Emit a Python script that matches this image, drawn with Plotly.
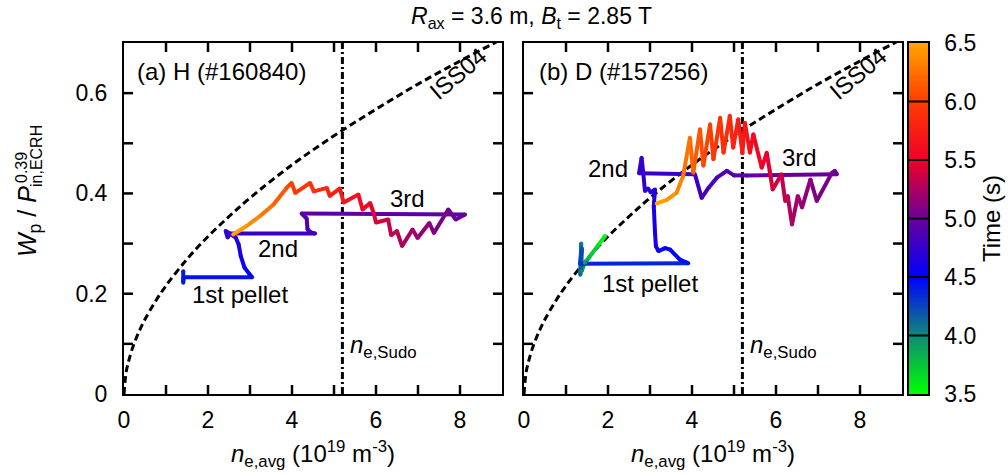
import plotly.graph_objects as go

# ---------------- data ----------------
# ISS04 scaling curve
iss_x = [0, 0.05, 0.1, 0.2, 0.35, 0.5, 0.75, 1, 1.5, 2, 2.5, 3, 4, 5, 6, 7, 8, 9]
iss_y = [0, 0.043, 0.062, 0.091, 0.123, 0.149, 0.185, 0.216, 0.269, 0.314, 0.354,
         0.391, 0.457, 0.515, 0.568, 0.618, 0.664, 0.708]

n_sudo = 5.2

# (a) H (#160840) trajectory: density, Wp/P^0.39, time
a_x = [1.41, 1.41, 1.42, 3.05, 2.98, 2.87, 2.78, 2.73, 2.66, 2.55, 2.42, 2.47, 2.50,
       4.55, 4.45, 4.37, 4.35, 4.23,
       8.12, 7.90, 7.72, 7.38, 7.27, 6.99, 6.87, 6.62, 6.50, 6.36, 6.29, 6.00, 5.94,
       5.86, 5.68, 5.58, 5.23, 5.14, 4.90, 4.83, 4.52, 4.43, 4.08, 3.99,
       3.87, 3.56, 3.24, 2.92, 2.60]
a_y = [0.245, 0.222, 0.233, 0.233, 0.240, 0.252, 0.275, 0.298, 0.312, 0.318, 0.325, 0.312, 0.320,
       0.320, 0.322, 0.328, 0.350, 0.360,
       0.358, 0.348, 0.368, 0.321, 0.341, 0.311, 0.328, 0.295, 0.325, 0.317, 0.348, 0.342, 0.362,
       0.381, 0.368, 0.398, 0.382, 0.410, 0.395, 0.411, 0.404, 0.421, 0.401, 0.421,
       0.411, 0.378, 0.355, 0.335, 0.318]
a_t = [4.40, 4.41, 4.42, 4.45, 4.48, 4.52, 4.57, 4.62, 4.68, 4.72, 4.74, 4.75, 4.76,
       4.78, 4.82, 4.86, 4.90, 4.93,
       4.96, 4.99, 5.02, 5.08, 5.11, 5.17, 5.20, 5.26, 5.30, 5.33, 5.37, 5.43, 5.47,
       5.50, 5.55, 5.59, 5.68, 5.72, 5.78, 5.82, 5.88, 5.92, 5.98, 6.02,
       6.08, 6.20, 6.32, 6.42, 6.50]

# (b) D (#157256) trajectory
b_x = [1.93, 1.75, 1.55, 1.45, 1.37, 1.36, 1.34, 1.38, 1.33,
       3.91, 3.71, 3.48, 3.36, 3.20, 3.14, 3.12, 3.09, 3.12, 3.02, 2.95, 2.88, 2.84, 2.80, 2.74,
       4.07, 4.23, 4.40, 4.60, 4.83, 5.00, 5.30,
       7.45, 7.40, 7.33, 6.97, 6.82, 6.62, 6.52, 6.38, 6.28, 6.22, 6.13, 5.92, 5.85, 5.78,
       5.66, 5.46, 5.38, 5.26, 5.20, 5.10, 4.98, 4.90, 4.75, 4.67, 4.51, 4.43, 4.27, 4.19,
       4.03, 3.95, 3.79, 3.63, 3.40, 3.16]
b_y = [0.315, 0.295, 0.272, 0.262, 0.245, 0.300, 0.238, 0.290, 0.260,
       0.261, 0.268, 0.288, 0.291, 0.285, 0.295, 0.321, 0.375, 0.408, 0.402, 0.410, 0.405, 0.440, 0.471, 0.440,
       0.438, 0.391, 0.412, 0.432, 0.445, 0.436, 0.436,
       0.438, 0.445, 0.441, 0.385, 0.428, 0.372, 0.395, 0.338, 0.395, 0.385, 0.438, 0.408, 0.445, 0.481,
       0.451, 0.518, 0.481, 0.541, 0.480, 0.548, 0.491, 0.555, 0.481, 0.551, 0.468, 0.538, 0.455, 0.528,
       0.441, 0.511, 0.435, 0.401, 0.387, 0.380]
b_t = [3.50, 3.62, 3.78, 3.90, 3.98, 4.05, 4.12, 4.20, 4.30,
       4.42, 4.46, 4.50, 4.53, 4.56, 4.58, 4.61, 4.65, 4.68, 4.70, 4.71, 4.72, 4.73, 4.74, 4.75,
       4.78, 4.80, 4.83, 4.86, 4.89, 4.92, 4.95,
       4.98, 5.00, 5.02, 5.08, 5.11, 5.17, 5.20, 5.25, 5.29, 5.31, 5.35, 5.40, 5.44, 5.48,
       5.52, 5.58, 5.62, 5.68, 5.72, 5.76, 5.80, 5.84, 5.88, 5.92, 5.96, 6.00, 6.05, 6.10,
       6.16, 6.22, 6.30, 6.38, 6.45, 6.50]

# axis ticks
x_label_ticks = [0, 2, 4, 6, 8]
x_all_ticks = [1, 2, 3, 4, 5, 6, 7, 8]
y_label_ticks = [0, 0.2, 0.4, 0.6]
y_all_ticks = [0.1, 0.2, 0.3, 0.4, 0.5, 0.6]
cbar_ticks = [3.5, 4.0, 4.5, 5.0, 5.5, 6.0, 6.5]
T_MIN, T_MAX = 3.5, 6.5
X_RANGE, Y_RANGE = (0, 9), (0, 0.7)

# ---------------- style ----------------
cscale_pts = [(0.0, (0, 255, 0)), (1 / 6, (16, 136, 120)), (2 / 6, (0, 0, 255)),
              (3 / 6, (106, 0, 152)), (4 / 6, (240, 0, 40)), (5 / 6, (255, 60, 0)),
              (1.0, (255, 165, 0))]
colorscale = [[p, "rgb(%d,%d,%d)" % c] for p, c in cscale_pts]


def color_at(t):
    f = (t - T_MIN) / (T_MAX - T_MIN)
    f = min(max(f, 0), 1)
    for (p0, c0), (p1, c1) in zip(cscale_pts[:-1], cscale_pts[1:]):
        if p0 <= f <= p1:
            w = (f - p0) / (p1 - p0) if p1 > p0 else 0
            c = [round(c0[i] + w * (c1[i] - c0[i])) for i in range(3)]
            return "rgb(%d,%d,%d)" % tuple(c)
    return "rgb(%d,%d,%d)" % cscale_pts[-1][1]


FONT = "Liberation Sans, Arial, Helvetica, sans-serif"
LW = 4
ML, MR, MT, MB = 124, 40, 43, 80
W_PLOT, H_PLOT = 1008.0 - ML - MR, 474.0 - MT - MB
PANEL_W = 378.0
A_X0, B_X0 = 124, 524
CB_X0, CB_W = 909, 19
TICK_PX = 9
TICK_W = 2.5

fig = go.Figure()


def add_traj(xs, ys, ts, xa, ya):
    for i in range(len(xs) - 1):
        fig.add_trace(go.Scatter(
            x=[xs[i], xs[i + 1]], y=[ys[i], ys[i + 1]], mode="lines",
            line=dict(color=color_at(0.5 * (ts[i] + ts[i + 1])), width=LW),
            xaxis=xa, yaxis=ya, showlegend=False, hoverinfo="skip"))
    fig.add_trace(go.Scatter(
        x=xs, y=ys, mode="markers", xaxis=xa, yaxis=ya, showlegend=False, hoverinfo="skip",
        marker=dict(size=LW, color=ts, colorscale=colorscale, cmin=T_MIN, cmax=T_MAX,
                    line=dict(width=0), showscale=False)))


def add_ticks(xa, ya):
    # inside tick marks on all four sides
    dx = TICK_PX * (X_RANGE[1] - X_RANGE[0]) / PANEL_W
    dy = TICK_PX * (Y_RANGE[1] - Y_RANGE[0]) / H_PLOT
    tx, ty = [], []
    for v in x_all_ticks:
        tx += [v, v, None, v, v, None]
        ty += [Y_RANGE[0], Y_RANGE[0] + dy, None, Y_RANGE[1], Y_RANGE[1] - dy, None]
    for v in y_all_ticks:
        tx += [X_RANGE[0], X_RANGE[0] + dx, None, X_RANGE[1], X_RANGE[1] - dx, None]
        ty += [v, v, None, v, v, None]
    fig.add_trace(go.Scatter(x=tx, y=ty, mode="lines", line=dict(color="black", width=TICK_W),
                             xaxis=xa, yaxis=ya, showlegend=False, hoverinfo="skip",
                             cliponaxis=False))


for xa, ya in (("x", "y"), ("x2", "y2")):
    fig.add_trace(go.Scatter(x=iss_x, y=iss_y, mode="lines", line_shape="spline",
                             line=dict(color="black", width=3, dash="7px,4px"),
                             xaxis=xa, yaxis=ya, showlegend=False, hoverinfo="skip"))
    fig.add_trace(go.Scatter(x=[n_sudo, n_sudo], y=[0, 0.7], mode="lines",
                             line=dict(color="black", width=3, dash="7px,3px,2px,3px"),
                             xaxis=xa, yaxis=ya, showlegend=False, hoverinfo="skip"))

add_traj(a_x, a_y, a_t, "x", "y")
add_traj(b_x, b_y, b_t, "x2", "y2")
add_ticks("x", "y")
add_ticks("x2", "y2")

# colour bar drawn as a one-column heat strip on its own axes
cb_levels = []
lev = T_MIN
while lev <= T_MAX + 1e-9:
    cb_levels.append(round(lev, 3))
    lev += 0.01
fig.add_trace(go.Heatmap(z=[[v] for v in cb_levels], x=[0.5], y=cb_levels,
                         colorscale=colorscale, zmin=T_MIN, zmax=T_MAX, showscale=False,
                         xaxis="x3", yaxis="y3", hoverinfo="skip"))
sx, sy = [], []
for v in cbar_ticks[1:-1]:
    sx += [0, 1, None]
    sy += [v, v, None]
fig.add_trace(go.Scatter(x=sx, y=sy, mode="lines", line=dict(color="black", width=2),
                         xaxis="x3", yaxis="y3", showlegend=False, hoverinfo="skip",
                         cliponaxis=False))

axis_common = dict(
    showline=True, linewidth=2, linecolor="black", mirror=True,
    ticks="", showgrid=False, zeroline=False,
    tickfont=dict(family=FONT, size=23, color="black"),
)


def dom(px0, px1):
    return [(px0 - ML) / W_PLOT, (px1 - ML) / W_PLOT]


fig.update_layout(
    width=1008, height=474,
    margin=dict(l=ML, r=MR, t=MT, b=MB, autoexpand=False),
    paper_bgcolor="white", plot_bgcolor="white",
    xaxis=dict(domain=dom(A_X0, A_X0 + PANEL_W), range=list(X_RANGE), tickmode="array",
               tickvals=x_label_ticks, anchor="y", ticklabelstandoff=4, **axis_common),
    xaxis2=dict(domain=dom(B_X0, B_X0 + PANEL_W), range=list(X_RANGE), tickmode="array",
                tickvals=x_label_ticks, anchor="y2", ticklabelstandoff=4, **axis_common),
    yaxis=dict(range=list(Y_RANGE), tickmode="array", tickvals=y_label_ticks,
               ticktext=["0", "0.2", "0.4", "0.6"], anchor="x", ticklabelstandoff=10,
               **axis_common),
    yaxis2=dict(range=list(Y_RANGE), tickmode="array", tickvals=y_label_ticks,
                showticklabels=False, anchor="x2", **axis_common),
    xaxis3=dict(domain=dom(CB_X0, CB_X0 + CB_W), range=[0, 1], anchor="y3",
                showline=True, linewidth=1.5, linecolor="black", mirror=True,
                showticklabels=False, ticks="", showgrid=False, zeroline=False),
    yaxis3=dict(range=[T_MIN, T_MAX], anchor="x3", side="right", tickmode="array",
                tickvals=cbar_ticks, ticktext=["%.1f" % v for v in cbar_ticks],
                showline=True, linewidth=1.5, linecolor="black", mirror=True,
                ticks="", showgrid=False, zeroline=False, ticklabelstandoff=10,
                tickfont=dict(family=FONT, size=23, color="black"),
                title=dict(text="Time (s)", standoff=8,
                           font=dict(family=FONT, size=24, color="black"))),
)

TF = dict(family=FONT, size=24, color="black")
ann = []


def add_ann(text, x, y, xref, yref, **kw):
    d = dict(text=text, x=x, y=y, xref=xref, yref=yref, showarrow=False,
             xanchor="center", yanchor="middle", font=kw.pop("font", TF))
    d.update(kw)
    ann.append(d)


# panel (a)
add_ann("(a) H (#160840)", 0.27, 0.644, "x", "y", xanchor="left")
add_ann("ISS04", 7.95, 0.64, "x", "y", textangle=-40)
add_ann("1st pellet", 2.77, 0.199, "x", "y")
add_ann("2nd", 3.67, 0.291, "x", "y")
add_ann("3rd", 6.75, 0.389, "x", "y")
add_ann("<i>n</i><sub>e,Sudo</sub>", 5.33, 0.095, "x", "y", xanchor="left")
# panel (b)
add_ann("(b) D (#157256)", 0.31, 0.644, "x2", "y2", xanchor="left")
add_ann("ISS04", 7.95, 0.64, "x2", "y2", textangle=-40)
add_ann("1st pellet", 2.99, 0.221, "x2", "y2")
add_ann("2nd", 2.0, 0.449, "x2", "y2")
add_ann("3rd", 6.57, 0.472, "x2", "y2")
add_ann("<i>n</i><sub>e,Sudo</sub>", 5.33, 0.095, "x2", "y2", xanchor="left")


def px2paper(px, py):
    return (px - ML) / W_PLOT, (MT + H_PLOT - py) / H_PLOT


# title
tx, ty = px2paper(531, 18)
add_ann("<i>R</i><sub>ax</sub> = 3.6 m, <i>B</i><sub>t</sub> = 2.85 T", tx, ty, "paper", "paper",
        font=dict(family=FONT, size=23, color="black"))
# x titles
for cx in (A_X0 + PANEL_W / 2, B_X0 + PANEL_W / 2):
    xx, yy = px2paper(cx, 454)
    add_ann("<i>n</i><sub>e,avg</sub> (10<sup>19</sup> m<sup>-3</sup>)", xx, yy, "paper", "paper",
            font=dict(family=FONT, size=24, color="black"))
# y title (stacked super/subscript built from pieces)
xx, yy = px2paper(29, 222)
add_ann("<i>W</i><sub>p</sub> / <i>P</i>", xx, yy, "paper", "paper", textangle=-90,
        font=dict(family=FONT, size=25, color="black"))
xx, yy = px2paper(21, 168)
add_ann("0.39", xx, yy, "paper", "paper", textangle=-90,
        font=dict(family=FONT, size=16, color="black"))
xx, yy = px2paper(36, 156)
add_ann("in,ECRH", xx, yy, "paper", "paper", textangle=-90,
        font=dict(family=FONT, size=16, color="black"))

fig.update_layout(annotations=ann)
fig.write_html("out.html")
